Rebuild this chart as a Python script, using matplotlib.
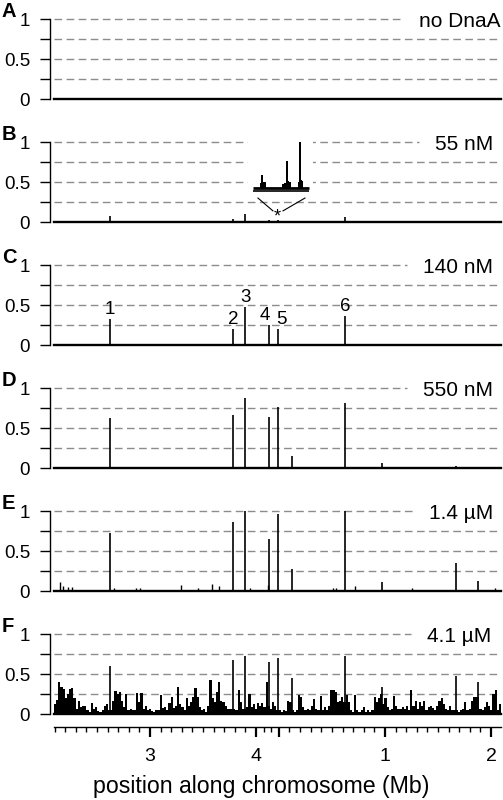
import numpy as np
import matplotlib
matplotlib.use('Agg')
import matplotlib.pyplot as plt

plt.rcParams['font.family'] = ['Liberation Sans', 'DejaVu Sans']

# ---------------- data ----------------
GENOME_MB = 4.215          # chromosome length (Mb); origin = 0
X_START = 2.095            # axis starts here (Mb) and wraps through the origin

panel_letters = ['A', 'B', 'C', 'D', 'E', 'F']
conditions = ['no DnaA', '55 nM', '140 nM', '550 nM', '1.4 µM', '4.1 µM']

# main binding sites (position in Mb)
site_pos_mb = [2.623, 3.785, 3.896, 4.119, 4.204, 0.623, 0.127, 0.969, 1.670, 1.874]
site_labels = ['1', '2', '3', '4', '5', '6', '', '', '', '']
h_noDnaA = [0, 0, 0, 0, 0, 0, 0, 0, 0, 0]
h_55nM = [0.07, 0.035, 0.10, 0.03, 0.02, 0.06, 0, 0, 0, 0]
h_140nM = [0.33, 0.20, 0.48, 0.25, 0.20, 0.36, 0.01, 0, 0, 0]
h_550nM = [0.625, 0.667, 0.883, 0.646, 0.77, 0.81, 0.154, 0.07, 0.03, 0.01]
h_1_4uM = [0.73, 0.867, 1.0, 0.654, 0.967, 1.0, 0.283, 0.117, 0.35, 0.133]
h_4_1uM = [0.61, 0.675, 0.73, 0.65, 0.70, 0.725, 0.45, 0.34, 0.48, 0.40]
site_heights = [h_noDnaA, h_55nM, h_140nM, h_550nM, h_1_4uM, h_4_1uM]

# minor peaks
d_minor_pos = [2.14, 2.20, 2.26, 1.00]
d_minor_h = [0.012, 0.012, 0.012, 0.02]
e_minor_pos = [2.151, 2.180, 2.227, 2.265, 2.661, 2.868, 2.906, 3.292, 3.453, 3.585,
               3.651, 3.943, 4.112, 0.510, 0.539, 0.718, 1.255, 2.038]
e_minor_h = [0.117, 0.06, 0.05, 0.05, 0.04, 0.04, 0.04, 0.08, 0.04, 0.09,
             0.07, 0.04, 0.08, 0.04, 0.04, 0.07, 0.04, 0.04]

# 4.1 uM background signal, consecutive bins starting at X_START
f_background = [
    0.13, 0.18, 0.40, 0.34, 0.32, 0.20, 0.26, 0.32, 0.33, 0.20,
    0.07, 0.17, 0.09, 0.11, 0.11, 0.05, 0.03, 0.14, 0.07, 0.09,
    0.04, 0.03, 0.05, 0.11, 0.13, 0.06, 0.06, 0.17, 0.29, 0.26,
    0.28, 0.17, 0.09, 0.26, 0.05, 0.07, 0.05, 0.05, 0.27, 0.15,
    0.27, 0.07, 0.11, 0.05, 0.07, 0.04, 0.03, 0.06, 0.05, 0.24,
    0.08, 0.09, 0.05, 0.14, 0.22, 0.08, 0.11, 0.34, 0.13, 0.09,
    0.05, 0.20, 0.11, 0.15, 0.22, 0.33, 0.22,
    0.09, 0.05, 0.07, 0.03, 0.11, 0.43, 0.20, 0.15, 0.28, 0.40,
    0.17, 0.16, 0.10, 0.07, 0.07, 0.07, 0.07, 0.05, 0.30, 0.15,
    0.07, 0.07, 0.09, 0.25, 0.09, 0.13, 0.07, 0.14, 0.11, 0.14,
    0.09, 0.40, 0.10, 0.07, 0.15, 0.11, 0.05, 0.05, 0.03, 0.05,
    0.04, 0.17, 0.15, 0.05, 0.03, 0.05, 0.24, 0.22, 0.09, 0.05,
    0.07, 0.05, 0.11, 0.19, 0.07, 0.05, 0.23, 0.05, 0.09, 0.05,
    0.11, 0.30, 0.31, 0.28, 0.15, 0.17, 0.22, 0.15, 0.24, 0.15,
    0.05, 0.03, 0.24, 0.05, 0.03, 0.05, 0.09, 0.03, 0.05, 0.03,
    0.05, 0.22, 0.15, 0.20, 0.26, 0.13, 0.20, 0.09, 0.05, 0.07,
    0.23, 0.11, 0.07, 0.07, 0.09, 0.07, 0.11, 0.05, 0.31, 0.11,
    0.17, 0.07, 0.16, 0.11, 0.17, 0.05, 0.09, 0.10, 0.08, 0.05,
    0.11, 0.17, 0.20, 0.13, 0.07, 0.05, 0.11, 0.05, 0.05, 0.05,
    0.03, 0.05, 0.07, 0.15, 0.05, 0.07, 0.17, 0.22, 0.22, 0.22,
    0.07, 0.06, 0.09, 0.15, 0.11, 0.05, 0.26, 0.30, 0.05, 0.13,
]

# inset (55 nM, origin region, relative kb)
inset_x = [1.4, 1.65, 1.9, 2.15, 5.4, 5.7, 6.05, 6.3, 6.55, 8.1, 8.35, 8.6, 8.85]
inset_y = [0.10, 0.29, 0.14, 0.13, 0.09, 0.11, 0.59, 0.16, 0.13, 0.12, 1.0, 0.18, 0.16]


def to_axis(pos):
    pos = np.asarray(pos, dtype=float)
    return np.where(pos >= X_START, pos, pos + GENOME_MB)


# ---------------- layout ----------------
W, H = 503, 800
fig = plt.figure(figsize=(W / 100, H / 100), dpi=100)
left_px, right_px = 54, 501
px_per_mb = 106.07
x_end = X_START + (right_px - left_px) / px_per_mb
tops = [19 + 123.06 * i for i in range(6)]
label_right_px = [500, 493, 493, 493, 493, 491]

grid_kw = dict(color='#8c8c8c', lw=1.0, ls=(0, (5.5, 3.2)), zorder=0)
axes, texts = [], []
for i, top in enumerate(tops):
    ax = fig.add_axes([left_px / W, 1 - (top + 80) / H, (right_px - left_px) / W, 80 / H])
    ax.set_xlim(X_START, x_end)
    ax.set_ylim(0, 1)
    for s in ['top', 'right', 'bottom']:
        ax.spines[s].set_visible(False)
    ax.spines['left'].set_position(('outward', 2.9))
    ax.spines['left'].set_bounds(0, 1)
    ax.spines['left'].set_linewidth(1.0)
    ax.set_yticks([0, 0.25, 0.5, 0.75, 1])
    ax.set_yticklabels(['0', '', '0.5', '', '1'])
    ax.tick_params(axis='y', length=7.2, width=1.0, pad=7, labelsize=13.5)
    ax.set_xticks([])
    ax.patch.set_visible(False)
    for g in [0.25, 0.5, 0.75]:
        ax.axhline(g, **grid_kw)

    # data
    if i == 5:
        n = len(f_background)
        bw = (x_end - X_START) / n
        fx = X_START + (np.arange(n) + 0.5) * bw
        ax.bar(fx, f_background, width=bw, color='k', linewidth=0, zorder=2)
    if i == 3:
        ax.vlines(to_axis(d_minor_pos), 0, d_minor_h, color='k', lw=1.0, zorder=2)
    if i == 4:
        ax.vlines(to_axis(e_minor_pos), 0, e_minor_h, color='k', lw=1.0, zorder=2)
    hts = site_heights[i]
    ax.vlines(to_axis(site_pos_mb), 0, hts, color='k', lw=1.2, zorder=3, clip_on=False)
    ax.axhline(0, color='k', lw=1.7, zorder=3, clip_on=False)

    xr = X_START + (label_right_px[i] - left_px) / px_per_mb
    t = ax.text(xr, 0.905, conditions[i], ha='right', va='baseline', fontsize=15)
    texts.append(t)
    fig.text(2 / W, 1 - (top - 2.3) / H, panel_letters[i], fontweight='bold',
             fontsize=14.5, ha='left', va='baseline')
    axes.append(ax)

# site labels in panel C
axC = axes[2]
label_dx = {'4': -2.5, '5': 3.0}
for p, h, lab in zip(site_pos_mb, h_140nM, site_labels):
    if lab:
        axC.annotate(lab, (float(to_axis(p)), h), xytext=(label_dx.get(lab, 0), 3.6),
                     textcoords='offset points', ha='center', va='baseline', fontsize=13.5)

# inset in panel B
axB = axes[1]
s5 = float(to_axis(site_pos_mb[4]))
axB.plot([s5 - 0.186, s5 - 0.045], [0.30, 0.14], color='k', lw=0.8)
axB.plot([s5 + 0.257, s5 + 0.05], [0.30, 0.14], color='k', lw=0.8)
axB.text(s5, 0.06, '*', ha='center', va='center', fontsize=13)

axin = fig.add_axes([248 / W, 1 - 194 / H, 65 / W, 54 / H])
axin.set_facecolor('white')
axin.set_xlim(-0.89, 10.71)
axin.set_ylim(-0.13, 1.037)
for s in axin.spines.values():
    s.set_visible(False)
axin.set_xticks([])
axin.set_yticks([])
axin.bar(inset_x, inset_y, width=0.3, color='k', linewidth=0)
axin.hlines(0, 0, 10, color='k', lw=2.0)
axin.hlines(-0.07, 0, 10, color='k', lw=1.2)

# x axis on panel F
axF = axes[5]
axF.spines['bottom'].set_visible(True)
axF.spines['bottom'].set_position(('outward', 9))
axF.spines['bottom'].set_linewidth(1.0)
major = [3, 4, GENOME_MB, 1 + GENOME_MB, 2 + GENOME_MB]
axF.set_xticks(major)
axF.set_xticklabels(['3', '4', '', '1', '2'])
minor = [v for v in np.arange(2.1, 4.0, 0.1) if abs(v - round(v)) > 0.01]
minor += [4 + (GENOME_MB - 4) / 3, 4 + 2 * (GENOME_MB - 4) / 3]
minor += [GENOME_MB + 0.1 * k for k in range(1, 22) if k % 10 != 0]
minor = [v for v in minor if v <= x_end + 1e-6]
axF.set_xticks(minor, minor=True)
axF.tick_params(axis='x', which='major', length=7.2, width=1.6, pad=8, labelsize=14)
axF.tick_params(axis='x', which='minor', length=3.6, width=1.0)
fig.text(261 / W, 1 - 787 / H, 'position along chromosome (Mb)', ha='center',
         va='center', fontsize=16.7)

# top gridline stops before the condition label
fig.canvas.draw()
for ax, t in zip(axes, texts):
    bb = t.get_window_extent()
    xe = ax.transData.inverted().transform((bb.x0 - 16, 0))[0]
    ax.hlines(1, X_START, xe, clip_on=False, **grid_kw)

fig.savefig('out.png', dpi=100)
